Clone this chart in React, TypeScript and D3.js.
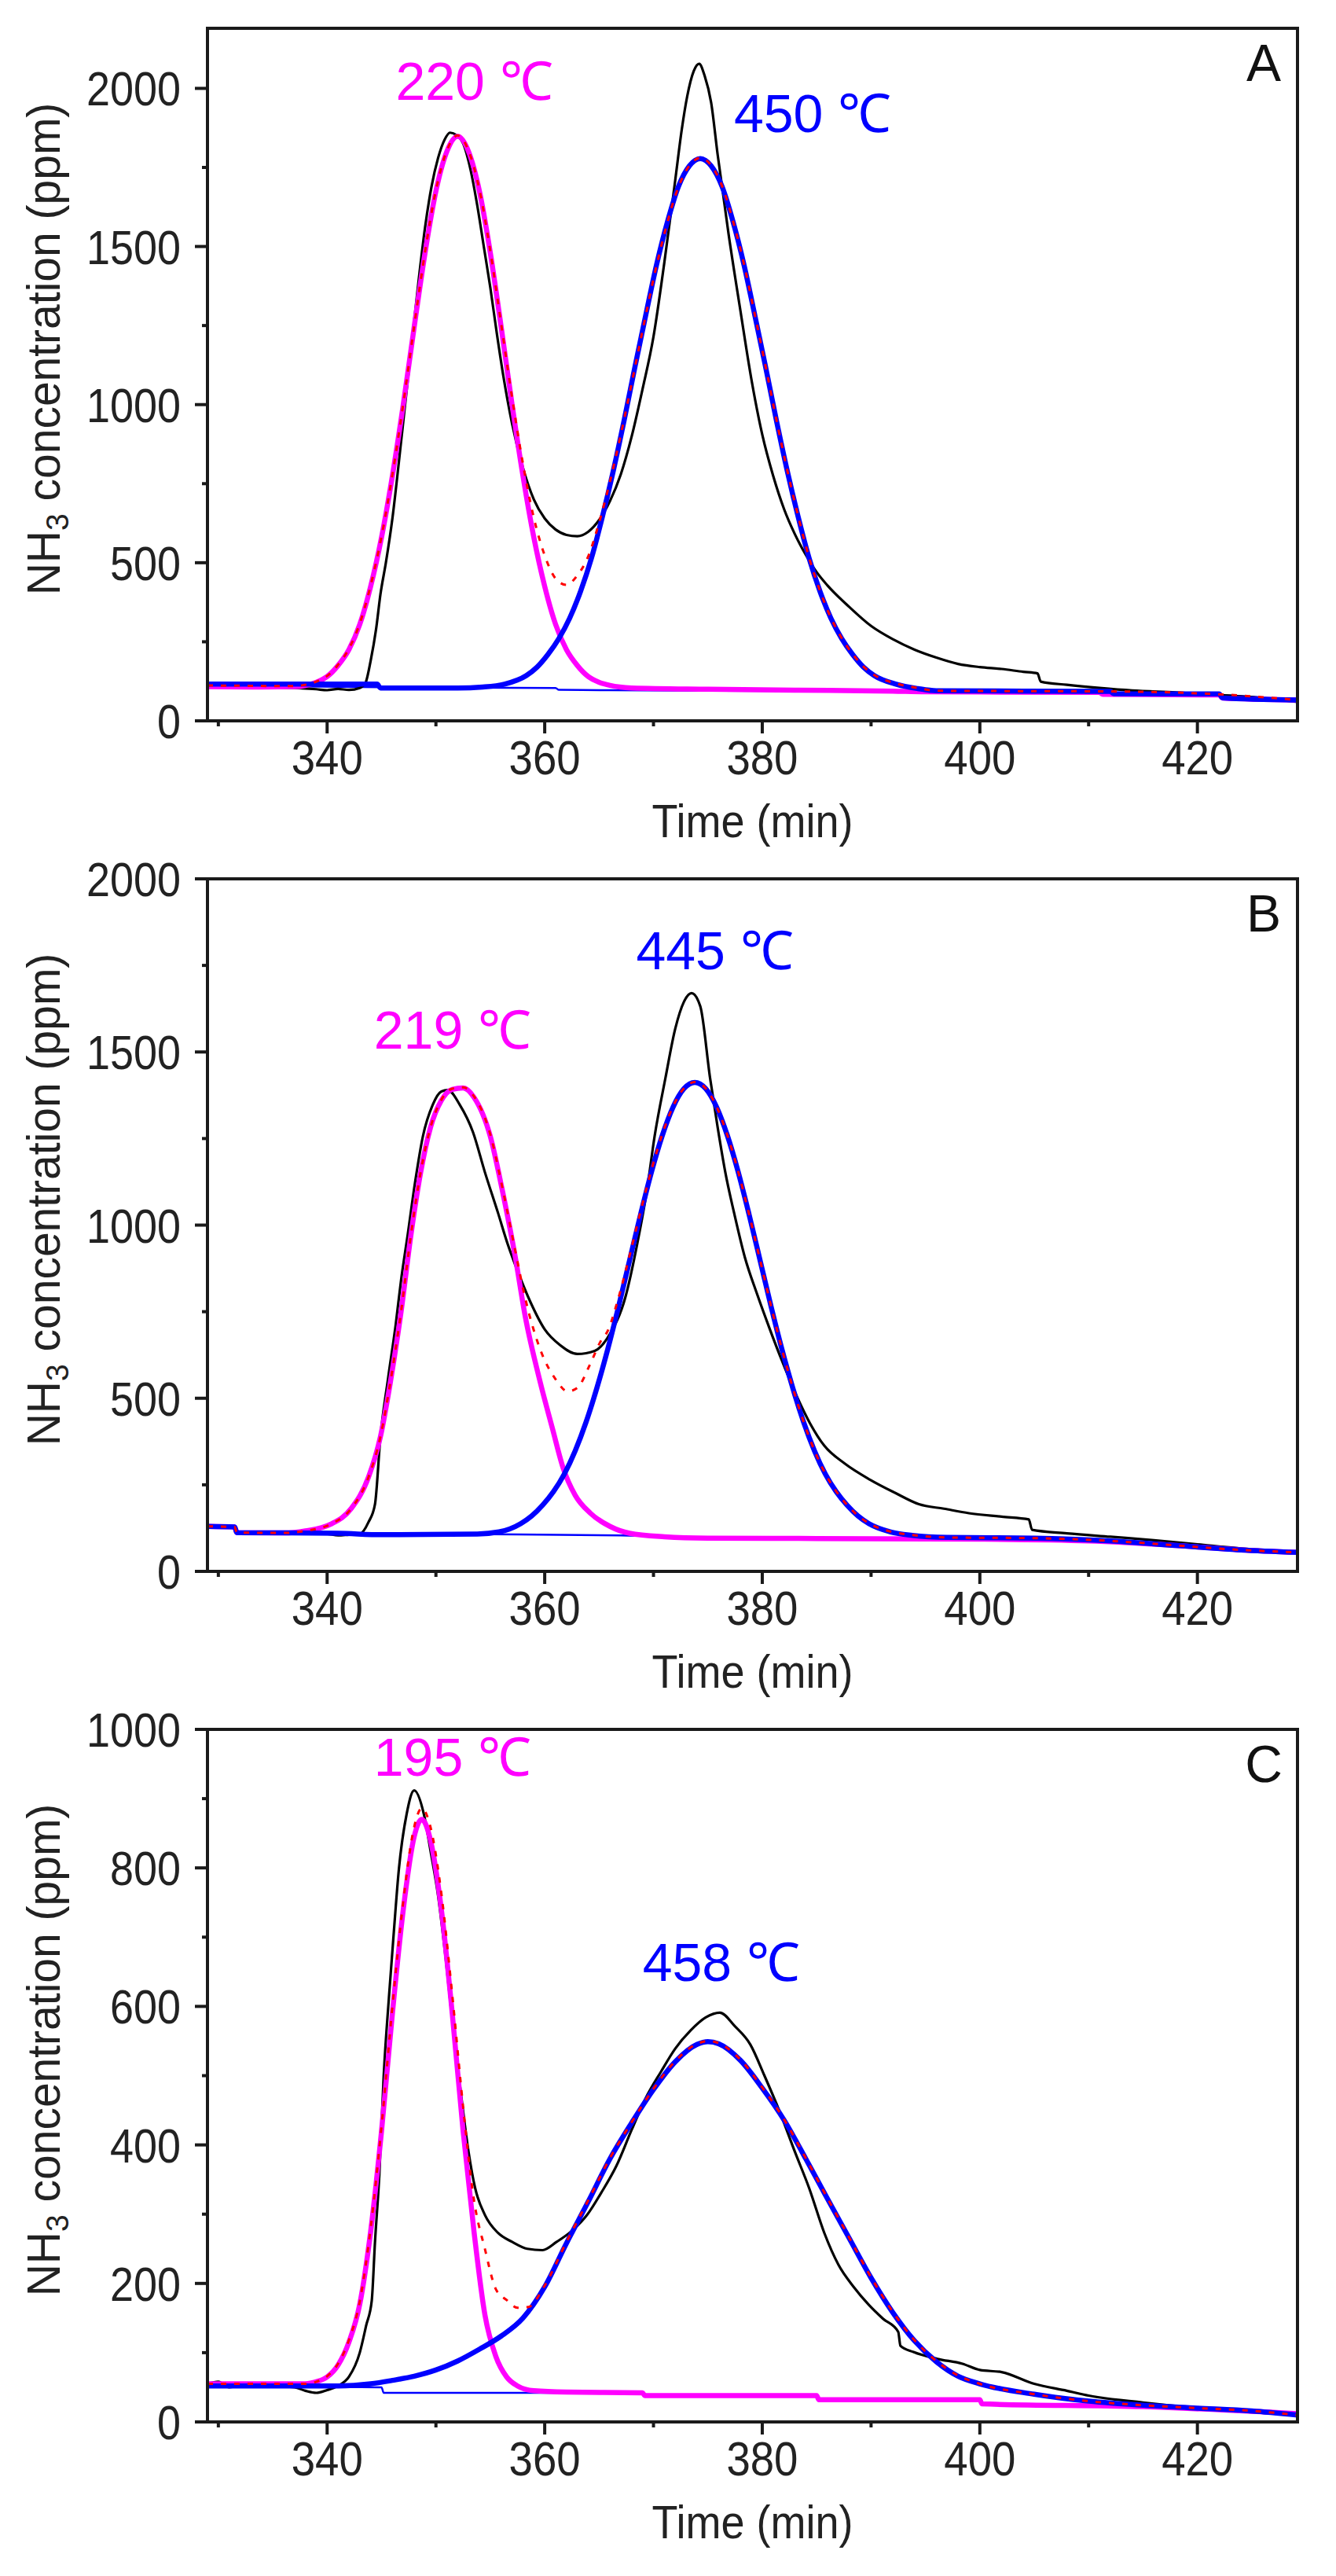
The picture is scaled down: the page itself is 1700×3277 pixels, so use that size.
import React from "react";
import * as d3 from "d3";

type Pt = [number, number];

// shared time axis (min)
const timeDomain: [number, number] = [329, 429.2];
const timeTicks = [340, 360, 380, 400, 420];
const timeMinorTicks = [330, 350, 370, 390, 410];

// ---------- panel A ----------
const yTicksA = [0, 500, 1000, 1500, 2000];
const yMinorA = [250, 750, 1250, 1750];

const expA: Pt[] = [
  [329, 110], [331, 108], [334, 106], [337, 104], [339, 100], [340, 97], [341, 101], [342, 98], [343, 104],
  [343.5, 118], [344, 190], [344.5, 290], [344.9, 400], [345.4, 500], [346, 640], [346.6, 820], [347.2, 1010],
  [347.8, 1200], [348.4, 1390], [349, 1560], [349.6, 1690], [350.2, 1780], [350.8, 1838], [351.3, 1860],
  [351.9, 1852], [352.5, 1826], [353.2, 1740], [353.8, 1630], [354.4, 1500], [355, 1370], [355.6, 1225],
  [356.2, 1090], [357, 940], [358, 800], [359, 700], [360, 640], [361, 605], [362, 588], [363, 584], [364, 598],
  [365, 635], [366, 695], [367, 780], [368, 900], [369, 1050], [370, 1215], [371, 1450], [372, 1710],
  [372.6, 1870], [373.1, 1975], [373.7, 2055], [374.2, 2078], [374.7, 2040], [375.3, 1955], [375.9, 1790],
  [376.9, 1540], [378, 1295], [379, 1080], [380, 905], [381, 775], [382, 670], [383, 590], [384, 525],
  [385, 470], [386, 428], [388, 360], [390, 300], [392, 258], [394, 225], [396, 200], [398, 180], [400, 170],
  [402, 164], [404, 155], [405.3, 150], [405.6, 124], [408, 114], [411, 104], [414, 96], [418, 90], [422, 82],
  [426, 72], [429.2, 60],
];
const peak1A: Pt[] = [
  [329, 108], [334, 107], [337, 108], [338, 112], [339, 122], [340, 140], [341, 175], [342, 225], [343, 305],
  [344, 425], [345, 580], [346, 775], [347, 1000], [348, 1245], [349, 1480], [350, 1675], [351, 1800],
  [352, 1848], [353, 1800], [354, 1675], [355, 1480], [356, 1245], [357, 1000], [358, 775], [359, 580],
  [360, 425], [361, 305], [362, 225], [363, 175], [364, 140], [365, 122], [366, 112], [368, 104], [375, 100],
  [383, 97], [392, 94], [395, 92], [411, 90], [411.3, 84], [422, 82], [422.3, 72], [429.2, 66],
];
const peak2A: Pt[] = [
  [329, 116], [344.6, 116], [344.9, 104], [352, 104], [354.3, 107], [356.3, 116], [358.3, 143], [359.3, 170],
  [360.3, 210], [361.3, 260], [362.3, 325], [363.3, 410], [364.3, 515], [365.3, 645], [366.3, 790],
  [367.3, 950], [368.3, 1120], [369.3, 1285], [370.3, 1445], [371.3, 1580], [372.3, 1690], [373.3, 1755],
  [374.3, 1778], [375.3, 1755], [376.3, 1690], [377.3, 1580], [378.3, 1445], [379.3, 1285], [380.3, 1120],
  [381.3, 950], [382.3, 790], [383.3, 645], [384.3, 515], [385.3, 410], [386.3, 325], [387.3, 260],
  [388.3, 210], [389.3, 170], [390.3, 143], [392.3, 116], [394.3, 102], [396, 95], [412, 93], [412.3, 86],
  [422, 85], [422.3, 73], [429.2, 66],
];
const fitA: Pt[] = [
  [329, 112], [337, 110], [338, 114], [339, 124], [340, 142], [341, 177], [342, 228], [343, 308], [344, 428],
  [345, 583], [346, 778], [347, 1003], [348, 1248], [349, 1483], [350, 1678], [351, 1803], [352, 1851],
  [353, 1803], [354, 1680], [355, 1486], [356, 1255], [357, 1023], [358, 813], [359, 642], [360, 523],
  [361, 450], [362, 430], [363, 460], [364, 520], [365, 627], [366, 757], [367, 906], [368, 1068],
  [369, 1235], [370, 1397], [371, 1540], [372, 1660], [373, 1740], [374.3, 1780], [375.3, 1757],
  [376.3, 1692], [377.3, 1582], [378.3, 1447], [379.3, 1287], [380.3, 1122], [381.3, 952], [382.3, 792],
  [383.3, 647], [384.3, 517], [385.3, 412], [386.3, 327], [387.3, 262], [388.3, 212], [389.3, 172],
  [390.3, 145], [392.3, 118], [394.3, 104], [396, 95], [412, 93], [422, 84], [429.2, 66],
];
const baseA: Pt[] = [
  [329, 112], [345, 106], [361, 104], [361.3, 98], [366, 97], [392, 93], [411, 90], [422, 82], [429.2, 66],
];

// ---------- panel B ----------
const yTicksB = [0, 500, 1000, 1500, 2000];
const yMinorB = [250, 750, 1250, 1750];

const expB: Pt[] = [
  [329, 130], [331.4, 128], [331.6, 112], [334, 110], [337, 110], [340, 108], [341, 104], [342, 106],
  [343, 108], [343.8, 142], [344.4, 194], [344.9, 389], [345.6, 557], [346.3, 712], [346.8, 842],
  [347.4, 971], [348.1, 1127], [348.8, 1256], [349.7, 1347], [350.5, 1386], [351.1, 1390], [352.2, 1347],
  [353.4, 1269], [354.5, 1153], [355.7, 1036], [356.6, 945], [357.5, 868], [358.7, 777], [360, 699],
  [361.4, 654], [363, 628], [364.6, 637], [366, 686], [367.4, 790], [368.5, 945], [369.4, 1101],
  [370.1, 1256], [371.1, 1425], [372, 1567], [372.8, 1645], [373.5, 1670], [374.3, 1632], [375.2, 1425],
  [375.9, 1282], [376.6, 1153], [377.5, 1023], [378.4, 907], [379.5, 803], [380.7, 699], [381.8, 609],
  [383, 518], [384.4, 427], [385.7, 363], [387.6, 311], [389.9, 265], [392.2, 227], [394.4, 194],
  [396.7, 181], [399, 168], [402, 158], [404.5, 150], [404.8, 120], [408, 110], [412, 100], [416, 90],
  [420, 78], [424, 66], [429.2, 55],
];
const peak1B: Pt[] = [
  [329, 130], [331.5, 128], [331.7, 112], [336, 111], [338, 117], [340.3, 136], [342.2, 181], [343.8, 272],
  [344.9, 389], [345.8, 544], [346.8, 751], [347.7, 971], [348.6, 1153], [349.5, 1282], [350.5, 1360],
  [351.5, 1392], [352.5, 1396], [353.5, 1369], [355, 1256], [356.1, 1101], [357.3, 907], [358.2, 738],
  [359.6, 545], [360.7, 414], [361.7, 298], [362.8, 220], [364.2, 168], [366, 130], [367.8, 110], [371, 100],
  [375, 96], [385, 95], [400, 93], [410, 88], [418, 75], [424, 62], [429.2, 55],
];
const peak2B: Pt[] = [
  [329, 130], [331.5, 128], [331.7, 112], [341, 110], [345, 106], [353.8, 108], [355.8, 114], [357.8, 138],
  [358.8, 160], [359.8, 191], [360.8, 230], [361.8, 281], [362.8, 348], [363.8, 431], [364.8, 530],
  [365.8, 642], [366.8, 766], [367.8, 898], [368.8, 1029], [369.8, 1152], [370.8, 1258], [371.8, 1341],
  [372.8, 1394], [373.8, 1412], [374.8, 1394], [375.8, 1341], [376.8, 1258], [377.8, 1152], [378.8, 1029],
  [379.8, 898], [380.8, 766], [381.8, 642], [382.8, 530], [383.8, 431], [384.8, 348], [385.8, 281],
  [386.8, 230], [387.8, 191], [388.8, 160], [389.8, 138], [391.8, 114], [393.8, 104], [397, 98], [405, 96],
  [412, 88], [418, 75], [424, 62], [429.2, 55],
];
const fitB: Pt[] = [
  [329, 130], [331.5, 128], [331.7, 112], [336, 111], [338, 117], [340.3, 136], [342.2, 181], [343.8, 272],
  [344.9, 389], [345.8, 544], [346.8, 751], [347.7, 971], [348.6, 1153], [349.5, 1282], [350.5, 1362],
  [351.5, 1394], [352.5, 1398], [353.5, 1372], [355, 1262], [356.1, 1110], [357.3, 925], [358.2, 790],
  [359.6, 640], [361, 555], [362.1, 520], [363, 530], [364.2, 600], [365.1, 662], [365.8, 695],
  [366.8, 792], [367.8, 912], [368.8, 1038], [369.8, 1158], [370.8, 1262], [371.8, 1343], [372.8, 1395],
  [373.8, 1413], [374.8, 1395], [375.8, 1342], [376.8, 1259], [377.8, 1153], [378.8, 1030], [379.8, 899],
  [380.8, 767], [381.8, 643], [382.8, 531], [383.8, 432], [384.8, 349], [385.8, 282], [386.8, 231],
  [387.8, 192], [388.8, 161], [389.8, 139], [391.8, 115], [393.8, 105], [397, 98], [405, 96], [412, 88],
  [418, 75], [424, 62], [429.2, 55],
];
const baseB: Pt[] = [
  [329, 130], [331.5, 128], [331.7, 112], [341, 110], [355, 107], [367, 104], [375, 99], [390, 97],
  [405, 95], [412, 88], [418, 75], [424, 62], [429.2, 55],
];

// ---------- panel C ----------
const yTicksC = [0, 200, 400, 600, 800, 1000];
const yMinorC = [100, 300, 500, 700, 900];

const expC: Pt[] = [
  [329, 55], [330, 58], [331, 50], [333, 56], [335, 52], [337, 50], [338, 45], [339, 42], [340, 46],
  [341, 52], [342, 65], [343, 100], [343.6, 140], [344.1, 175], [344.4, 260], [344.8, 357], [345.2, 500],
  [345.7, 617], [346.1, 701], [346.6, 799], [347.3, 877], [348, 912], [348.9, 877], [349.5, 825],
  [350.2, 760], [350.9, 669], [351.6, 565], [352.3, 474], [353, 390], [353.6, 338], [354.5, 299],
  [355.7, 273], [357, 260], [358.4, 250], [359.8, 248], [361.1, 260], [362.5, 276], [363.9, 299],
  [365.2, 331], [366.6, 370], [368, 422], [369.3, 468], [370.7, 506], [372, 539], [373.4, 565],
  [374.8, 584], [376.1, 591], [377.5, 571], [378.9, 545], [380.2, 500], [381.6, 448], [383, 390],
  [384.3, 338], [385.7, 273], [387, 227], [388.4, 195], [389.8, 169], [391.1, 149], [392.5, 130],
  [392.7, 110], [393.9, 101], [396.1, 91], [398.4, 84], [400, 75], [402, 72], [405, 55], [408, 45],
  [410, 38], [415, 28], [420, 20], [425, 14], [429.2, 10],
];
const peak1C: Pt[] = [
  [329, 55], [335, 55], [338, 55], [339, 58], [340, 65], [341, 82], [342, 115], [343, 170], [344, 275],
  [345, 420], [346, 590], [347, 740], [348, 845], [348.7, 870], [349.5, 840], [350.5, 740], [351.5, 590],
  [352.5, 420], [353.5, 275], [354.5, 155], [355.5, 95], [356.5, 65], [357.5, 52], [359, 45], [362, 43],
  [369, 42], [369.2, 38], [385, 38], [385.2, 32], [400, 32], [400.2, 26], [415, 22], [429.2, 12],
];
const peak2C: Pt[] = [
  [329, 52], [341, 52], [344, 55], [346, 60], [348, 66], [350, 75], [352, 88], [354, 105], [356, 124],
  [358, 150], [360, 195], [362, 258], [364, 318], [366, 380], [368, 432], [370, 480], [372, 520],
  [374, 545], [375, 549], [376, 546], [378, 522], [380, 482], [382, 436], [384, 380], [386, 322],
  [388, 265], [390, 208], [392, 158], [394, 117], [396, 87], [398, 66], [400, 55], [405, 40], [410, 30],
  [415, 24], [420, 20], [425, 16], [429.2, 10],
];
const fitC: Pt[] = [
  [329, 55], [338, 55], [339, 58], [340, 66], [341, 84], [342, 118], [343, 174], [344, 280], [345, 427],
  [346, 600], [347, 752], [348, 859], [348.7, 886], [349.5, 859], [350.5, 763], [351.5, 617], [352.5, 455],
  [353.5, 320], [354.5, 250], [355.5, 192], [356.5, 176], [357.5, 165], [358.5, 166], [360, 197],
  [362, 260], [364, 320], [366, 381], [368, 433], [370, 481], [372, 521], [374, 546], [375, 550],
  [376, 547], [378, 523], [380, 483], [382, 437], [384, 381], [386, 323], [388, 266], [390, 209],
  [392, 159], [394, 118], [396, 88], [398, 67], [400, 55], [405, 40], [410, 30], [415, 24], [420, 20],
  [425, 16], [429.2, 10],
];
const baseC: Pt[] = [
  [329, 52], [345, 50], [345.2, 42], [369, 42], [369.2, 38], [385, 38], [385.2, 32], [400, 32],
  [400.2, 26], [410, 24], [420, 18], [429.2, 10],
];

// peak labels: text, time (min) and ppm of the text anchor
const labelsA = [
  { text: "220 ℃", t: 346.3, v: 1964, color: "#ff00ff" },
  { text: "450 ℃", t: 377.4, v: 1862, color: "#0000ff" },
];
const labelsB = [
  { text: "219 ℃", t: 344.3, v: 1510, color: "#ff00ff" },
  { text: "445 ℃", t: 368.4, v: 1739, color: "#0000ff" },
];
const labelsC = [
  { text: "195 ℃", t: 344.3, v: 933, color: "#ff00ff" },
  { text: "458 ℃", t: 369.0, v: 637, color: "#0000ff" },
];

const panels = [
  { letter: "A", yMax: 2190, yTicks: yTicksA, yMinor: yMinorA, exp: expA, peak1: peak1A, peak2: peak2A, fit: fitA, base: baseA, labels: labelsA },
  { letter: "B", yMax: 2000, yTicks: yTicksB, yMinor: yMinorB, exp: expB, peak1: peak1B, peak2: peak2B, fit: fitB, base: baseB, labels: labelsB },
  { letter: "C", yMax: 1000, yTicks: yTicksC, yMinor: yMinorC, exp: expC, peak1: peak1C, peak2: peak2C, fit: fitC, base: baseC, labels: labelsC },
];

// layout
const W = 1700;
const H = 3277;
const left = 264;
const right = 1651;
const plotH = 881;
const tops = [36, 1118, 2200];
const font = "'Liberation Sans', Arial, sans-serif";
const axisColor = "#1a1a1a";

function Panel({ cfg, top, idx }: { cfg: (typeof panels)[number]; top: number; idx: number }) {
  const bottom = top + plotH;
  const x = d3.scaleLinear().domain(timeDomain).range([left, right]);
  const y = d3.scaleLinear().domain([0, cfg.yMax]).range([bottom, top]);
  const line = d3
    .line<Pt>()
    .x(d => x(d[0]))
    .y(d => y(d[1]))
    .curve(d3.curveMonotoneX);
  const clipId = `clip-${idx}`;
  const midY = top + 408;

  return (
    <g>
      <defs>
        <clipPath id={clipId}>
          <rect x={left} y={top} width={right - left} height={plotH} />
        </clipPath>
      </defs>

      <g clipPath={`url(#${clipId})`} fill="none" strokeLinejoin="round">
        <path d={line(cfg.base) || ""} stroke="#0000ff" strokeWidth={2.5} />
        <path d={line(cfg.exp) || ""} stroke="#000" strokeWidth={3.2} />
        <path d={line(cfg.peak1) || ""} stroke="#ff00ff" strokeWidth={6.5} />
        <path d={line(cfg.peak2) || ""} stroke="#0000ff" strokeWidth={6.5} />
        <path d={line(cfg.fit) || ""} stroke="#ff0000" strokeWidth={3} strokeDasharray="7 10" />
      </g>

      {/* frame */}
      <rect x={left} y={top} width={right - left} height={plotH} fill="none" stroke={axisColor} strokeWidth={4} />

      {/* y ticks */}
      {cfg.yTicks.map(v => (
        <g key={`y${v}`}>
          <line x1={left - 16} x2={left} y1={y(v)} y2={y(v)} stroke={axisColor} strokeWidth={4} />
          <text
            transform={`translate(${left - 34},${y(v) + 22}) scale(0.87,1)`}
            textAnchor="end"
            fontFamily={font}
            fontSize={62}
            fill="#222"
          >
            {v}
          </text>
        </g>
      ))}
      {cfg.yMinor.map(v => (
        <line key={`ym${v}`} x1={left - 7} x2={left} y1={y(v)} y2={y(v)} stroke={axisColor} strokeWidth={4} />
      ))}

      {/* x ticks */}
      {timeTicks.map(t => (
        <g key={`x${t}`}>
          <line x1={x(t)} x2={x(t)} y1={bottom} y2={bottom + 16} stroke={axisColor} strokeWidth={4} />
          <text
            transform={`translate(${x(t)},${bottom + 68}) scale(0.88,1)`}
            textAnchor="middle"
            fontFamily={font}
            fontSize={62}
            fill="#222"
          >
            {t}
          </text>
        </g>
      ))}
      {timeMinorTicks.map(t => (
        <line key={`xm${t}`} x1={x(t)} x2={x(t)} y1={bottom} y2={bottom + 7} stroke={axisColor} strokeWidth={4} />
      ))}

      {/* axis titles */}
      <text
        transform={`translate(${(left + right) / 2},${bottom + 148}) scale(0.9,1)`}
        textAnchor="middle"
        fontFamily={font}
        fontSize={60}
        fill="#222"
      >
        Time (min)
      </text>
      <text
        transform={`translate(76,${midY}) rotate(-90) scale(1,1.05)`}
        textAnchor="middle"
        fontFamily={font}
        fontSize={57}
        fill="#222"
      >
        NH
        <tspan fontSize={39} dy={10}>3</tspan>
        <tspan dy={-10}> concentration (ppm)</tspan>
      </text>

      {/* panel letter */}
      <text x={right - 43} y={top + 67} textAnchor="middle" fontFamily={font} fontSize={66} fill="#111">
        {cfg.letter}
      </text>

      {/* peak labels */}
      {cfg.labels.map(l => (
        <text key={l.text} x={x(l.t)} y={y(l.v)} fontFamily={font} fontSize={68} fill={l.color}>
          {l.text}
        </text>
      ))}
    </g>
  );
}

export default function App() {
  return (
    <svg
      width={W}
      height={H}
      viewBox={`0 0 ${W} ${H}`}
      style={{ position: "absolute", left: 0, top: 0, background: "#fff" }}
    >
      <rect width={W} height={H} fill="#fff" />
      {panels.map((p, i) => (
        <Panel key={p.letter} cfg={p} top={tops[i]} idx={i} />
      ))}
    </svg>
  );
}
